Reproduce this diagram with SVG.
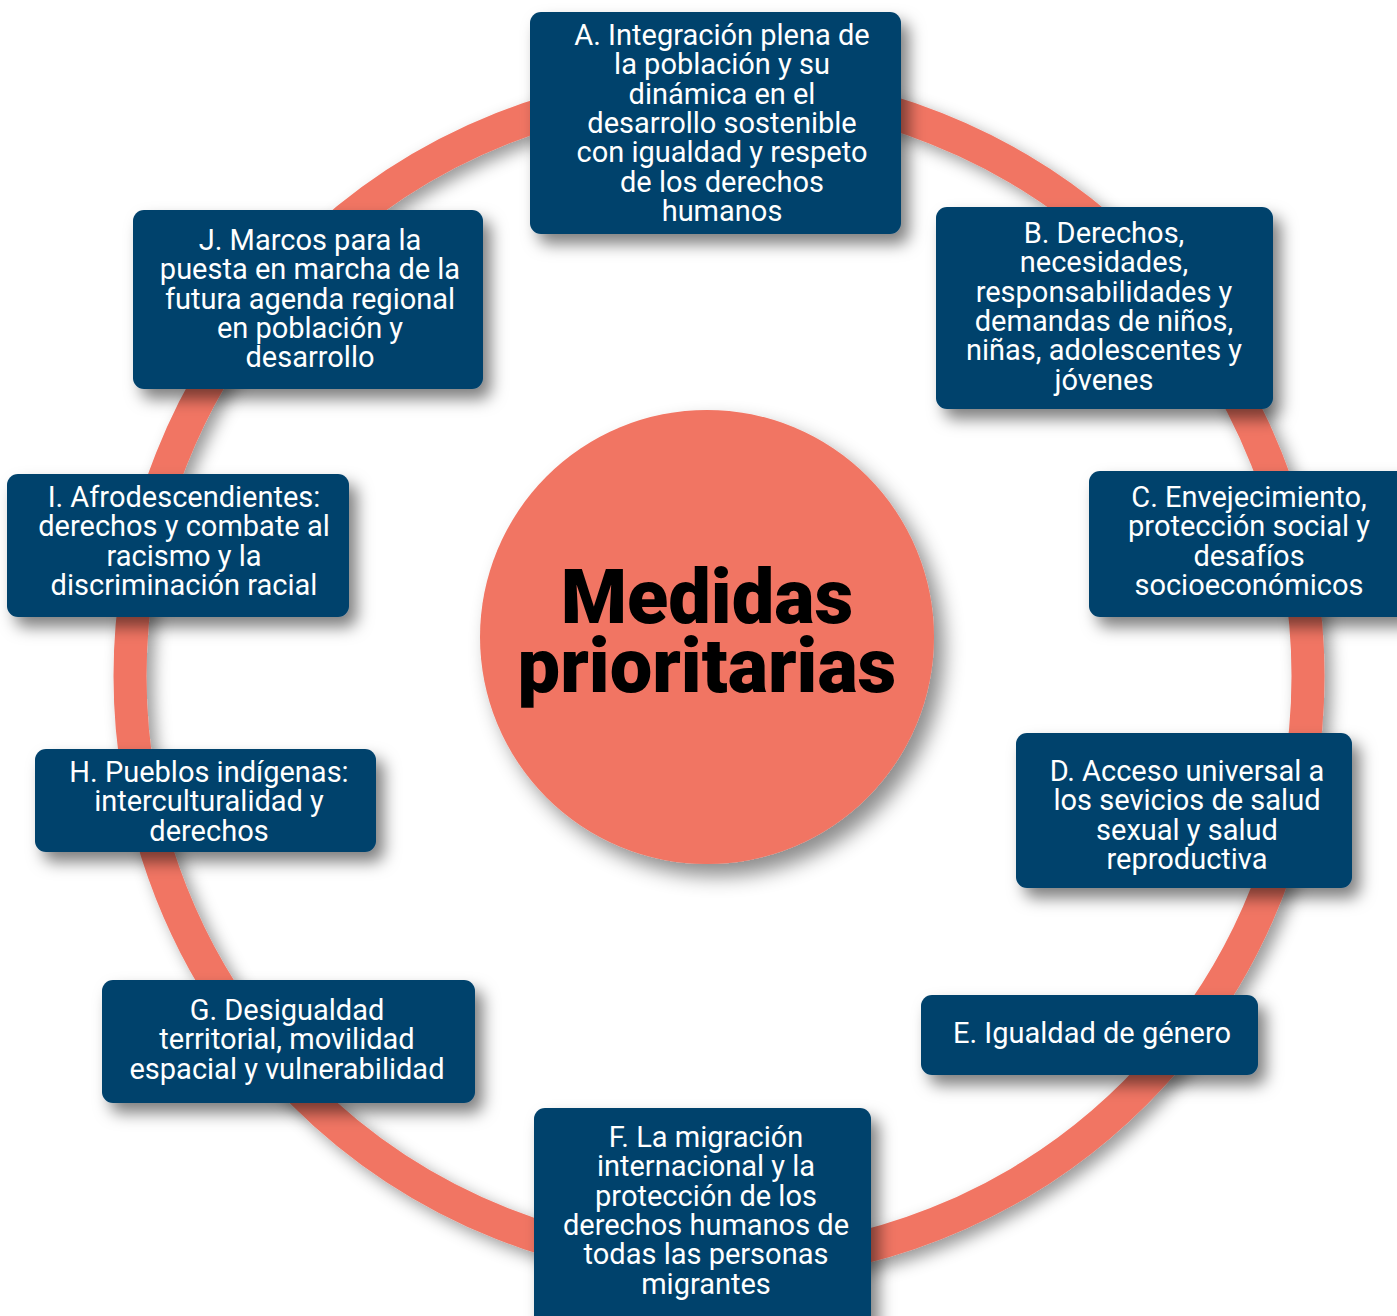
<svg xmlns="http://www.w3.org/2000/svg" width="1397" height="1316" viewBox="0 0 1397 1316">
  <defs>
    <filter id="shadow" x="-20%" y="-20%" width="150%" height="160%">
      <feDropShadow dx="8" dy="10" stdDeviation="8" flood-color="#000" flood-opacity="0.5"/>
    </filter>
    <filter id="ringShadow" x="-10%" y="-10%" width="125%" height="125%">
      <feDropShadow dx="7" dy="7" stdDeviation="8" flood-color="#000" flood-opacity="0.4"/>
    </filter>
    <filter id="hubShadow" x="-20%" y="-20%" width="150%" height="150%">
      <feDropShadow dx="10" dy="12" stdDeviation="10" flood-color="#000" flood-opacity="0.45"/>
    </filter>
    <style>
      .box { fill: #02426C; }
      .lbl { font-family: Roboto, "Liberation Sans", sans-serif; font-size: 29px; fill: #FFFFFF; text-anchor: middle; }
      .hub { font-family: Roboto, "Liberation Sans", sans-serif; font-size: 75.7px; font-weight: 900; fill: #000000; text-anchor: middle; }
    </style>
  </defs>

  <rect width="1397" height="1316" fill="#FFFFFF"/>

  <!-- circular track linking the priority measures -->
  <g id="connectors">
    <circle cx="719" cy="676" r="589" fill="none" stroke="#F17563" stroke-width="33" filter="url(#ringShadow)"/>
  </g>

  <!-- central hub -->
  <g id="hub">
    <circle cx="707" cy="637" r="227" fill="#F17563" filter="url(#hubShadow)"/>
    <text class="hub" x="707" y="623">Medidas</text>
    <text class="hub" x="707" y="692">prioritarias</text>
  </g>

  <g id="nodeA">
    <rect class="box" x="530" y="12" width="371" height="222" rx="11" filter="url(#shadow)"/>
    <text class="lbl" x="722" y="45">A. Integración plena de</text>
    <text class="lbl" x="722" y="74.3">la población y su</text>
    <text class="lbl" x="722" y="103.6">dinámica en el</text>
    <text class="lbl" x="722" y="132.9">desarrollo sostenible</text>
    <text class="lbl" x="722" y="162.2">con igualdad y respeto</text>
    <text class="lbl" x="722" y="191.5">de los derechos</text>
    <text class="lbl" x="722" y="220.8">humanos</text>
  </g>

  <g id="nodeB">
    <rect class="box" x="936" y="207" width="337" height="202" rx="11" filter="url(#shadow)"/>
    <text class="lbl" x="1104" y="243">B. Derechos,</text>
    <text class="lbl" x="1104" y="272.3">necesidades,</text>
    <text class="lbl" x="1104" y="301.6">responsabilidades y</text>
    <text class="lbl" x="1104" y="330.9">demandas de niños,</text>
    <text class="lbl" x="1104" y="360.2">niñas, adolescentes y</text>
    <text class="lbl" x="1104" y="389.5">jóvenes</text>
  </g>

  <g id="nodeC">
    <rect class="box" x="1089" y="471" width="330" height="146" rx="11" filter="url(#shadow)"/>
    <text class="lbl" x="1249" y="507">C. Envejecimiento,</text>
    <text class="lbl" x="1249" y="536.3">protección social y</text>
    <text class="lbl" x="1249" y="565.6">desafíos</text>
    <text class="lbl" x="1249" y="594.9">socioeconómicos</text>
  </g>

  <g id="nodeD">
    <rect class="box" x="1016" y="733" width="336" height="155" rx="11" filter="url(#shadow)"/>
    <text class="lbl" x="1187" y="781">D. Acceso universal a</text>
    <text class="lbl" x="1187" y="810.3">los sevicios de salud</text>
    <text class="lbl" x="1187" y="839.6">sexual y salud</text>
    <text class="lbl" x="1187" y="868.9">reproductiva</text>
  </g>

  <g id="nodeE">
    <rect class="box" x="921" y="995" width="337" height="80" rx="11" filter="url(#shadow)"/>
    <text class="lbl" x="1092" y="1043">E. Igualdad de género</text>
  </g>

  <g id="nodeF">
    <rect class="box" x="534" y="1108" width="337" height="230" rx="11" filter="url(#shadow)"/>
    <text class="lbl" x="706" y="1147">F. La migración</text>
    <text class="lbl" x="706" y="1176.3">internacional y la</text>
    <text class="lbl" x="706" y="1205.6">protección de los</text>
    <text class="lbl" x="706" y="1234.9">derechos humanos de</text>
    <text class="lbl" x="706" y="1264.2">todas las personas</text>
    <text class="lbl" x="706" y="1293.5">migrantes</text>
  </g>

  <g id="nodeG">
    <rect class="box" x="102" y="980" width="373" height="123" rx="11" filter="url(#shadow)"/>
    <text class="lbl" x="287" y="1020">G. Desigualdad</text>
    <text class="lbl" x="287" y="1049.3">territorial, movilidad</text>
    <text class="lbl" x="287" y="1078.6">espacial y vulnerabilidad</text>
  </g>

  <g id="nodeH">
    <rect class="box" x="35" y="749" width="341" height="103" rx="11" filter="url(#shadow)"/>
    <text class="lbl" x="209" y="782">H. Pueblos indígenas:</text>
    <text class="lbl" x="209" y="811.3">interculturalidad y</text>
    <text class="lbl" x="209" y="840.6">derechos</text>
  </g>

  <g id="nodeI">
    <rect class="box" x="7" y="474" width="342" height="143" rx="11" filter="url(#shadow)"/>
    <text class="lbl" x="184" y="507">I. Afrodescendientes:</text>
    <text class="lbl" x="184" y="536.3">derechos y combate al</text>
    <text class="lbl" x="184" y="565.6">racismo y la</text>
    <text class="lbl" x="184" y="594.9">discriminación racial</text>
  </g>

  <g id="nodeJ">
    <rect class="box" x="133" y="210" width="350" height="179" rx="11" filter="url(#shadow)"/>
    <text class="lbl" x="310" y="250">J. Marcos para la</text>
    <text class="lbl" x="310" y="279.3">puesta en marcha de la</text>
    <text class="lbl" x="310" y="308.6">futura agenda regional</text>
    <text class="lbl" x="310" y="337.9">en población y</text>
    <text class="lbl" x="310" y="367.2">desarrollo</text>
  </g>
</svg>
